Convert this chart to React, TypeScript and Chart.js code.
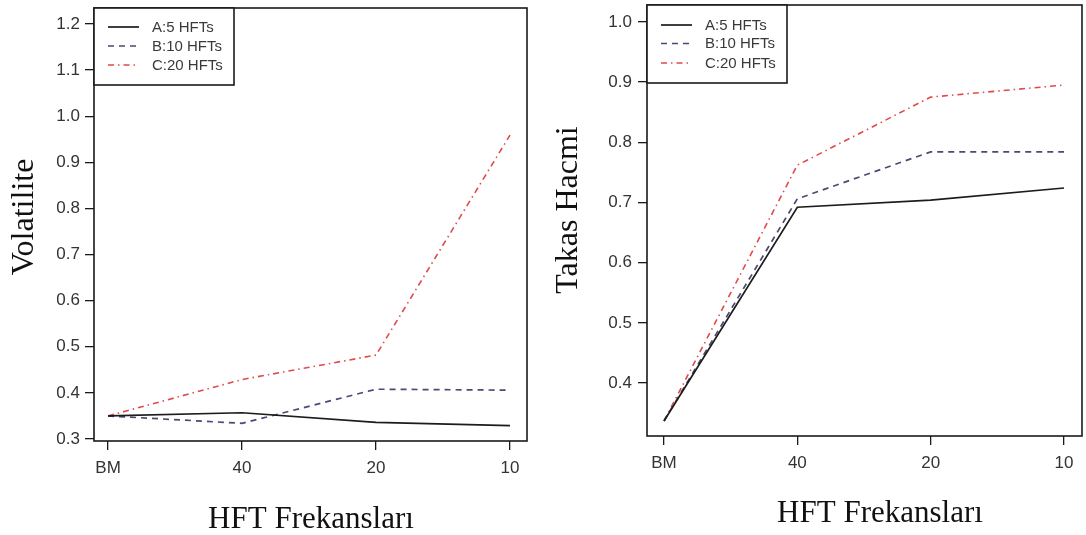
import React, { useEffect, useRef } from 'react';
import { Chart, registerables } from 'chart.js';

Chart.register(...registerables);

// ---- data ----
const xLabels = ['BM', '40', '20', '10'];
const seriesNames = ['A:5 HFTs', 'B:10 HFTs', 'C:20 HFTs'];

const volA = [0.350, 0.357, 0.336, 0.329];
const volB = [0.350, 0.334, 0.408, 0.406];
const volC = [0.350, 0.429, 0.482, 0.959];

const takasA = [0.337, 0.692, 0.704, 0.724];
const takasB = [0.337, 0.706, 0.784, 0.784];
const takasC = [0.337, 0.762, 0.875, 0.895];

const volTicks = [0.3, 0.4, 0.5, 0.6, 0.7, 0.8, 0.9, 1.0, 1.1, 1.2];
const takasTicks = [0.4, 0.5, 0.6, 0.7, 0.8, 0.9, 1.0];

const xTitle = 'HFT Frekansları';
const volTitle = 'Volatilite';
const takasTitle = 'Takas Hacmi';

// ---- styles ----
const seriesStyles = [
  { color: '#1c1c1c', dash: [] as number[], width: 1.7 },
  { color: '#4a4a72', dash: [6, 5], width: 1.7 },
  { color: '#e04a4a', dash: [6, 4, 1.5, 4], width: 1.6 },
];
const tickFont = { family: '"Liberation Sans", Arial, Helvetica, sans-serif', size: 17 };
const tickColor = '#333333';
const axisColor = '#1a1a1a';

const framePlugin = {
  id: 'frame',
  afterDraw(chart: any, _args: any, opts: any) {
    const { ctx, chartArea: a } = chart;
    ctx.save();
    ctx.setLineDash([]);
    ctx.strokeStyle = axisColor;
    ctx.lineWidth = 1.6;
    ctx.strokeRect(a.left, a.top, a.right - a.left, a.bottom - a.top);

    // legend box
    const lx = a.left;
    const ly = a.top;
    ctx.fillStyle = '#ffffff';
    ctx.fillRect(lx, ly, opts.legendW, opts.legendH);
    ctx.strokeRect(lx, ly, opts.legendW, opts.legendH);
    chart.data.datasets.forEach((ds: any, i: number) => {
      const y = ly + opts.rowY[i];
      ctx.beginPath();
      ctx.setLineDash(ds.borderDash || []);
      ctx.strokeStyle = ds.borderColor;
      ctx.lineWidth = ds.borderWidth;
      ctx.moveTo(lx + 14, y);
      ctx.lineTo(lx + 45, y);
      ctx.stroke();
      ctx.setLineDash([]);
      ctx.fillStyle = '#3a3a3a';
      ctx.font = '15px "Liberation Sans", Arial, Helvetica, sans-serif';
      ctx.textBaseline = 'middle';
      ctx.textAlign = 'left';
      ctx.fillText(ds.label, lx + 58, y + 0.5);
    });

    // axis titles
    ctx.fillStyle = '#111111';
    ctx.textAlign = 'center';
    ctx.textBaseline = 'alphabetic';
    ctx.font = '31px "Liberation Serif", "Times New Roman", serif';
    ctx.fillText(opts.xTitle, opts.xTitleX, opts.xTitleY);
    ctx.font = '32px "Liberation Serif", "Times New Roman", serif';
    ctx.translate(opts.yTitleX, opts.yTitleY);
    ctx.rotate(-Math.PI / 2);
    ctx.fillText(opts.yTitle, 0, 0);
    ctx.restore();
  },
};

type PanelProps = {
  left: number;
  series: number[][];
  yTicks: number[];
  yMin: number;
  yMax: number;
  xMin: number;
  xMax: number;
  padTop: number;
  padRight: number;
  yWidth: number;
  xHeight: number;
  yTickPad: number;
  yTitle: string;
  yTitleX: number;
  yTitleY: number;
  xTitleX: number;
  xTitleY: number;
  legendH: number;
  rowY: number[];
};

function Panel(p: PanelProps) {
  const ref = useRef<HTMLCanvasElement | null>(null);
  useEffect(() => {
    if (!ref.current) return;
    const chart = new Chart(ref.current, {
      type: 'line',
      data: {
        datasets: p.series.map((vals, i) => ({
          label: seriesNames[i],
          data: vals.map((v, j) => ({ x: j, y: v })),
          borderColor: seriesStyles[i].color,
          borderDash: seriesStyles[i].dash,
          borderWidth: seriesStyles[i].width,
          pointRadius: 0,
          tension: 0,
          fill: false,
        })),
      },
      options: {
        responsive: false,
        animation: false,
        layout: { padding: { top: p.padTop, right: p.padRight, left: 0, bottom: 0 } },
        plugins: {
          legend: { display: false },
          tooltip: { enabled: false },
          frame: {
            legendW: 140,
            legendH: p.legendH,
            rowY: p.rowY,
            xTitle,
            xTitleX: p.xTitleX,
            xTitleY: p.xTitleY,
            yTitle: p.yTitle,
            yTitleX: p.yTitleX,
            yTitleY: p.yTitleY,
          },
        } as any,
        scales: {
          x: {
            type: 'linear',
            min: p.xMin,
            max: p.xMax,
            afterBuildTicks: (s: any) => {
              s.ticks = xLabels.map((_, i) => ({ value: i }));
            },
            afterFit: (s: any) => {
              s.height = p.xHeight;
              s.paddingLeft = 0;
              s.paddingRight = 0;
              s.paddingTop = 0;
              s.paddingBottom = 0;
            },
            ticks: {
              callback: (v: any) => xLabels[v] ?? '',
              font: tickFont,
              color: tickColor,
              padding: 8,
              maxRotation: 0,
              autoSkip: false,
            },
            grid: { drawOnChartArea: false, drawTicks: true, tickLength: 9, color: axisColor, lineWidth: 1.3 },
            border: { display: false },
          },
          y: {
            type: 'linear',
            min: p.yMin,
            max: p.yMax,
            afterBuildTicks: (s: any) => {
              s.ticks = p.yTicks.map((v) => ({ value: v }));
            },
            afterFit: (s: any) => {
              s.width = p.yWidth;
              s.paddingTop = 0;
              s.paddingBottom = 0;
              s.paddingLeft = 0;
              s.paddingRight = 0;
            },
            ticks: {
              callback: (v: any) => Number(v).toFixed(1),
              font: tickFont,
              color: tickColor,
              padding: p.yTickPad,
              autoSkip: false,
            },
            grid: { drawOnChartArea: false, drawTicks: true, tickLength: 9, color: axisColor, lineWidth: 1.3 },
            border: { display: false },
          },
        } as any,
      },
      plugins: [framePlugin as any],
    });
    return () => chart.destroy();
  }, []);
  return (
    <canvas
      ref={ref}
      width={543}
      height={535}
      style={{ position: 'absolute', left: p.left, top: 0, width: 543, height: 535, display: 'block' }}
    />
  );
}

export default function App() {
  return (
    <div style={{ position: 'absolute', left: 0, top: 0, width: 1086, height: 535, background: '#ffffff', overflow: 'hidden' }}>
      <Panel
        left={0}
        series={[volA, volB, volC]}
        yTicks={volTicks}
        yMin={0.2957}
        yMax={1.2347}
        xMin={-0.105}
        xMax={3.127}
        padTop={8}
        padRight={16}
        yWidth={94}
        xHeight={94}
        yTickPad={5}
        yTitle={volTitle}
        yTitleX={33}
        yTitleY={217}
        xTitleX={311}
        xTitleY={528}
        legendH={77}
        rowY={[19, 38, 57]}
      />
      <Panel
        left={543}
        series={[takasA, takasB, takasC]}
        yTicks={takasTicks}
        yMin={0.312}
        yMax={1.028}
        xMin={-0.1275}
        xMax={3.135}
        padTop={5}
        padRight={4}
        yWidth={104}
        xHeight={99}
        yTickPad={6}
        yTitle={takasTitle}
        yTitleX={34}
        yTitleY={210}
        xTitleX={337}
        xTitleY={522}
        legendH={78}
        rowY={[20, 38.5, 58]}
      />
    </div>
  );
}
